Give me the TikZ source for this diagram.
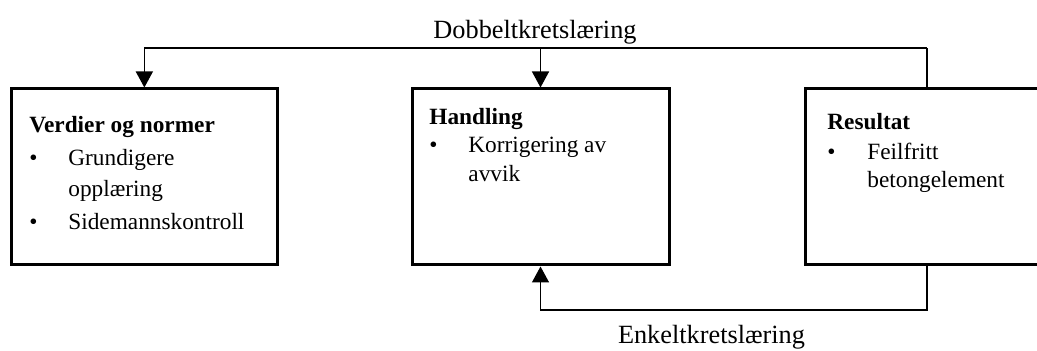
\documentclass[tikz,border=0pt]{standalone}
\usepackage{fontspec}
\setmainfont{Liberation Serif}
\usetikzlibrary{arrows.meta}
\tikzset{
  box/.style={draw=black, line width=1.5pt, rectangle, inner sep=0pt},
  conn/.style={draw=black, line width=0.7pt},
  arr/.style={conn, -{Triangle[length=8pt,width=8.5pt]}},
  hd/.style={anchor=base west, inner sep=0pt, font=\fontsize{11.65}{14}\selectfont\bfseries},
  tx/.style={anchor=base west, inner sep=0pt, font=\fontsize{11.65}{14}\selectfont},
  lbl/.style={anchor=base, inner sep=0pt, font=\fontsize{13.15}{16}\selectfont}
}
\begin{document}
\begin{tikzpicture}[x=0.5pt, y=-0.5pt]
\useasboundingbox (0,0) rectangle (1037,351);
\clip (0,0) rectangle (1037,351);
% boxes
\node[box, minimum width=132.65pt, minimum height=88pt] (v) at (144.35,177) {};
\node[box, minimum width=128.5pt, minimum height=88pt] (h) at (540.5,177) {};
\node[box, minimum width=127.5pt, minimum height=88pt] (r) at (932.5,177) {};
% box 1 text
\node[hd] (vt) at (29,133) {Verdier og normer};
\node[tx] (vb1) at (29,166) {•};
\node[tx] (vi1) at (68,166) {Grundigere};
\node[tx] (vi1b) at (68,197) {opplæring};
\node[tx] (vb2) at (29,230) {•};
\node[tx] (vi2) at (68,230) {Sidemannskontroll};
% box 2 text
\node[hd] (ht) at (429,125) {Handling};
\node[tx] (hb1) at (429,153) {•};
\node[tx] (hi1) at (468,153) {Korrigering av};
\node[tx] (hi1b) at (468,182) {avvik};
% box 3 text
\node[hd] (rt) at (827,130) {Resultat};
\node[tx] (rb1) at (827,160) {•};
\node[tx] (ri1) at (867,160) {Feilfritt};
\node[tx] (ri1b) at (867,188) {betongelement};
% labels
\node[lbl] (dbl) at (535,39) {Dobbeltkretslæring};
\node[lbl] (enk) at (711.5,344) {Enkeltkretslæring};
% connectors
\coordinate (tj) at (927,48);
\coordinate (bj) at (927,310);
\draw[conn] (r.north -| tj) -- (tj);
\draw[arr] (tj) -| (v.north);
\draw[arr] (h.north |- tj) -- (h.north);
\draw[arr] (r.south -| bj) -- (bj) -| (h.south);
\end{tikzpicture}
\end{document}
